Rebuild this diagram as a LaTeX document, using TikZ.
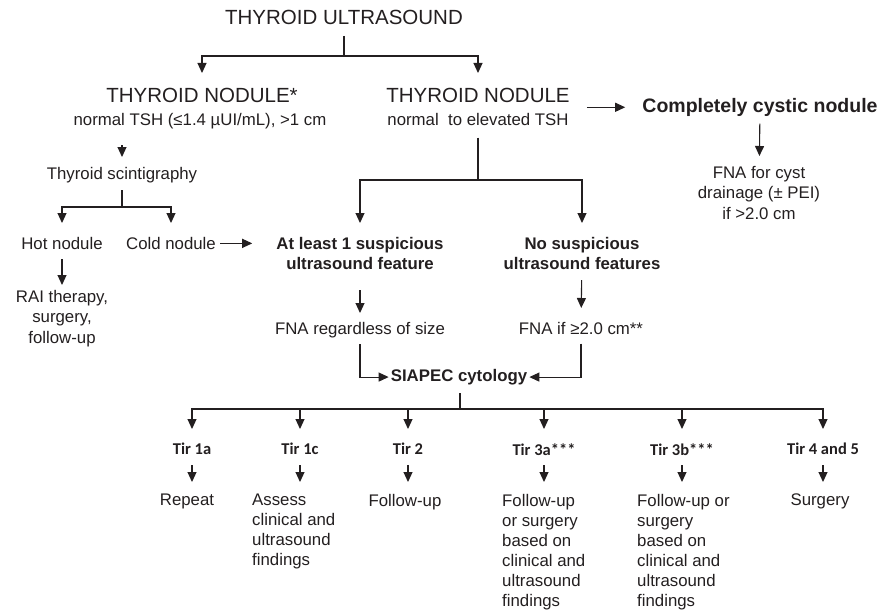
\documentclass[tikz,border=0pt]{standalone}
\usepackage{fontspec}
\setmainfont{Liberation Sans}
\newfontfamily\tirfont{Carlito}
\usetikzlibrary{arrows.meta}

\definecolor{ink}{RGB}{35,31,32}
\newcommand{\hdsize}{\fontsize{20.5}{24}\selectfont}
\newcommand{\txsize}{\fontsize{16.8}{20.5}\selectfont}
\newcommand{\lowsize}{\fontsize{16.8}{20}\selectfont}
\newcommand{\tirsize}{\tirfont\fontsize{16.5}{20}\selectfont\bfseries}

\tikzstyle{head}=[font=\hdsize,text=ink,inner sep=0pt,anchor=north]
\tikzstyle{txt}=[font=\txsize,text=ink,inner sep=0pt,anchor=north,align=center]
\tikzstyle{boldtxt}=[txt,font=\txsize\bfseries]
\tikzstyle{lowtxt}=[txt,font=\lowsize,align=left,anchor=north west]
\tikzstyle{tir}=[font=\tirsize,text=ink,inner sep=0pt,anchor=north]
\tikzstyle{wire}=[draw=ink,line width=1.1pt]
\tikzstyle{arr}=[wire,->]

\begin{document}
\begin{tikzpicture}[x=1pt,y=-1pt,>={Triangle[width=9pt,length=10pt]}]
        \useasboundingbox (0,0) rectangle (891,610);
        % ultrasound and the two nodule types
        \node[head] (title) at (344,10) {THYROID ULTRASOUND};
        \coordinate (splitA) at (344,56);
        \node[head] (nodL) at (202,88) {THYROID NODULE*};
        \node[txt] (nodLtsh) at (200,113) {normal TSH (≤1.4 µUI/mL), >1 cm};
        \node[head] (nodR) at (478,88) {THYROID NODULE};
        \node[txt] (nodRtsh) at (478,113) {normal\ \ to elevated TSH};
        \draw[wire,shorten <=11pt] (title.south) -- (splitA);
        \draw[arr,shorten >=15pt] (splitA) -| (nodL.north);
        \draw[arr,shorten >=15pt] (splitA) -| (nodR.north);
        % cystic nodule
        \node[head,font=\fontsize{19.5}{24}\selectfont\bfseries] (cystic) at (760,98) {Completely cystic nodule};
        \draw[arr,shorten <=17pt,shorten >=17pt] (nodR.east |- cystic.west) -- (cystic.west);
        \node[txt] (fnacyst) at (759,166) {FNA for cyst\\drainage (± PEI)\\if >2.0 cm}
            edge [wire,<-,shorten <=10pt,shorten >=7pt] (cystic);
        % scintigraphy
        \node[txt] (scint) at (122,167) {Thyroid scintigraphy};
        \draw[arr,shorten <=16pt,shorten >=10pt] (nodLtsh.south -| scint.north) -- (scint.north);
        \coordinate (splitC) at (122,207);
        \draw[wire,shorten <=7pt] (scint.south) -- (splitC);
        \node[txt] (hot) at (62,237) {Hot nodule};
        \node[txt] (cold) at (171,237) {Cold nodule};
        \draw[arr,shorten >=14pt] (splitC) -| (hot.north);
        \draw[arr,shorten >=14pt] (splitC) -| (cold.north);
        \node[txt] (rai) at (62,290) {RAI therapy,\\surgery,\\follow-up}
            edge [wire,<-,shorten <=5pt,shorten >=9pt] (hot);
        % ultrasound features
        \coordinate (splitB) at (478,180);
        \draw[wire,shorten <=12pt] (nodRtsh.south) -- (splitB);
        \node[boldtxt] (atleast) at (360,237) {At least 1 suspicious\\ultrasound feature};
        \node[boldtxt] (nosusp) at (582,237) {No suspicious\\ultrasound features};
        \draw[arr,shorten >=14pt] (splitB) -| (atleast.north);
        \draw[arr,shorten >=14pt] (splitB) -| (nosusp.north);
        \draw[arr,shorten <=4pt,shorten >=24pt] (cold.east) -- (cold.east -| atleast.west);
        \node[txt] (fnareg) at (360,322) {FNA regardless of size}
            edge [wire,<-,shorten <=9pt,shorten >=20pt] (atleast);
        \node[txt] (fnaif) at (581,322) {FNA if ≥2.0 cm**}
            edge [wire,<-,shorten <=14pt,shorten >=10pt] (nosusp);
        % cytology
        \node[boldtxt] (siapec) at (459,369) {SIAPEC cytology};
        \draw[arr,shorten <=6pt,shorten >=2pt] (fnareg.south) |- (siapec.west);
        \draw[arr,shorten <=9pt,shorten >=2pt] (fnaif.south) |- (siapec.east);
        \coordinate (splitD) at (460,409);
        \draw[wire,shorten <=8pt] (siapec.south -| splitD) -- (splitD);
        % tir classes
        \node[tir] (t1a) at (192,443) {Tir 1a};
        \node[tir] (t1c) at (300,443) {Tir 1c};
        \node[tir] (t2) at (408,443) {Tir 2};
        \node[tir] (t3a) at (544,443) {Tir 3a***};
        \node[tir] (t3b) at (682,443) {Tir 3b***};
        \node[tir] (t45) at (823,443) {Tir 4 and 5};
        \foreach \t in {t1a,t1c,t2,t3a,t3b,t45}
            \draw[arr,shorten >=14pt] (splitD) -| (\t.north);
        % management
        \node[txt] (rep) at (187,494) {Repeat};
        \node[lowtxt] (assess) at (252,494) {Assess\\clinical and\\ultrasound\\findings};
        \node[txt] (fup) at (405,494) {Follow-up};
        \node[lowtxt] (fup3a) at (502,494) {Follow-up\\or surgery\\based on\\clinical and\\ultrasound\\findings};
        \node[lowtxt] (fup3b) at (637,494) {Follow-up or\\surgery\\based on\\clinical and\\ultrasound\\findings};
        \node[txt] (surg) at (820,494) {Surgery};
        \foreach \t/\r in {t1a/rep,t1c/assess,t2/fup,t3a/fup3a,t3b/fup3b,t45/surg}
            \draw[arr,shorten <=10pt,shorten >=12pt] (\t.south) -- (\t.south |- \r.north);
    \end{tikzpicture}
\end{document}
